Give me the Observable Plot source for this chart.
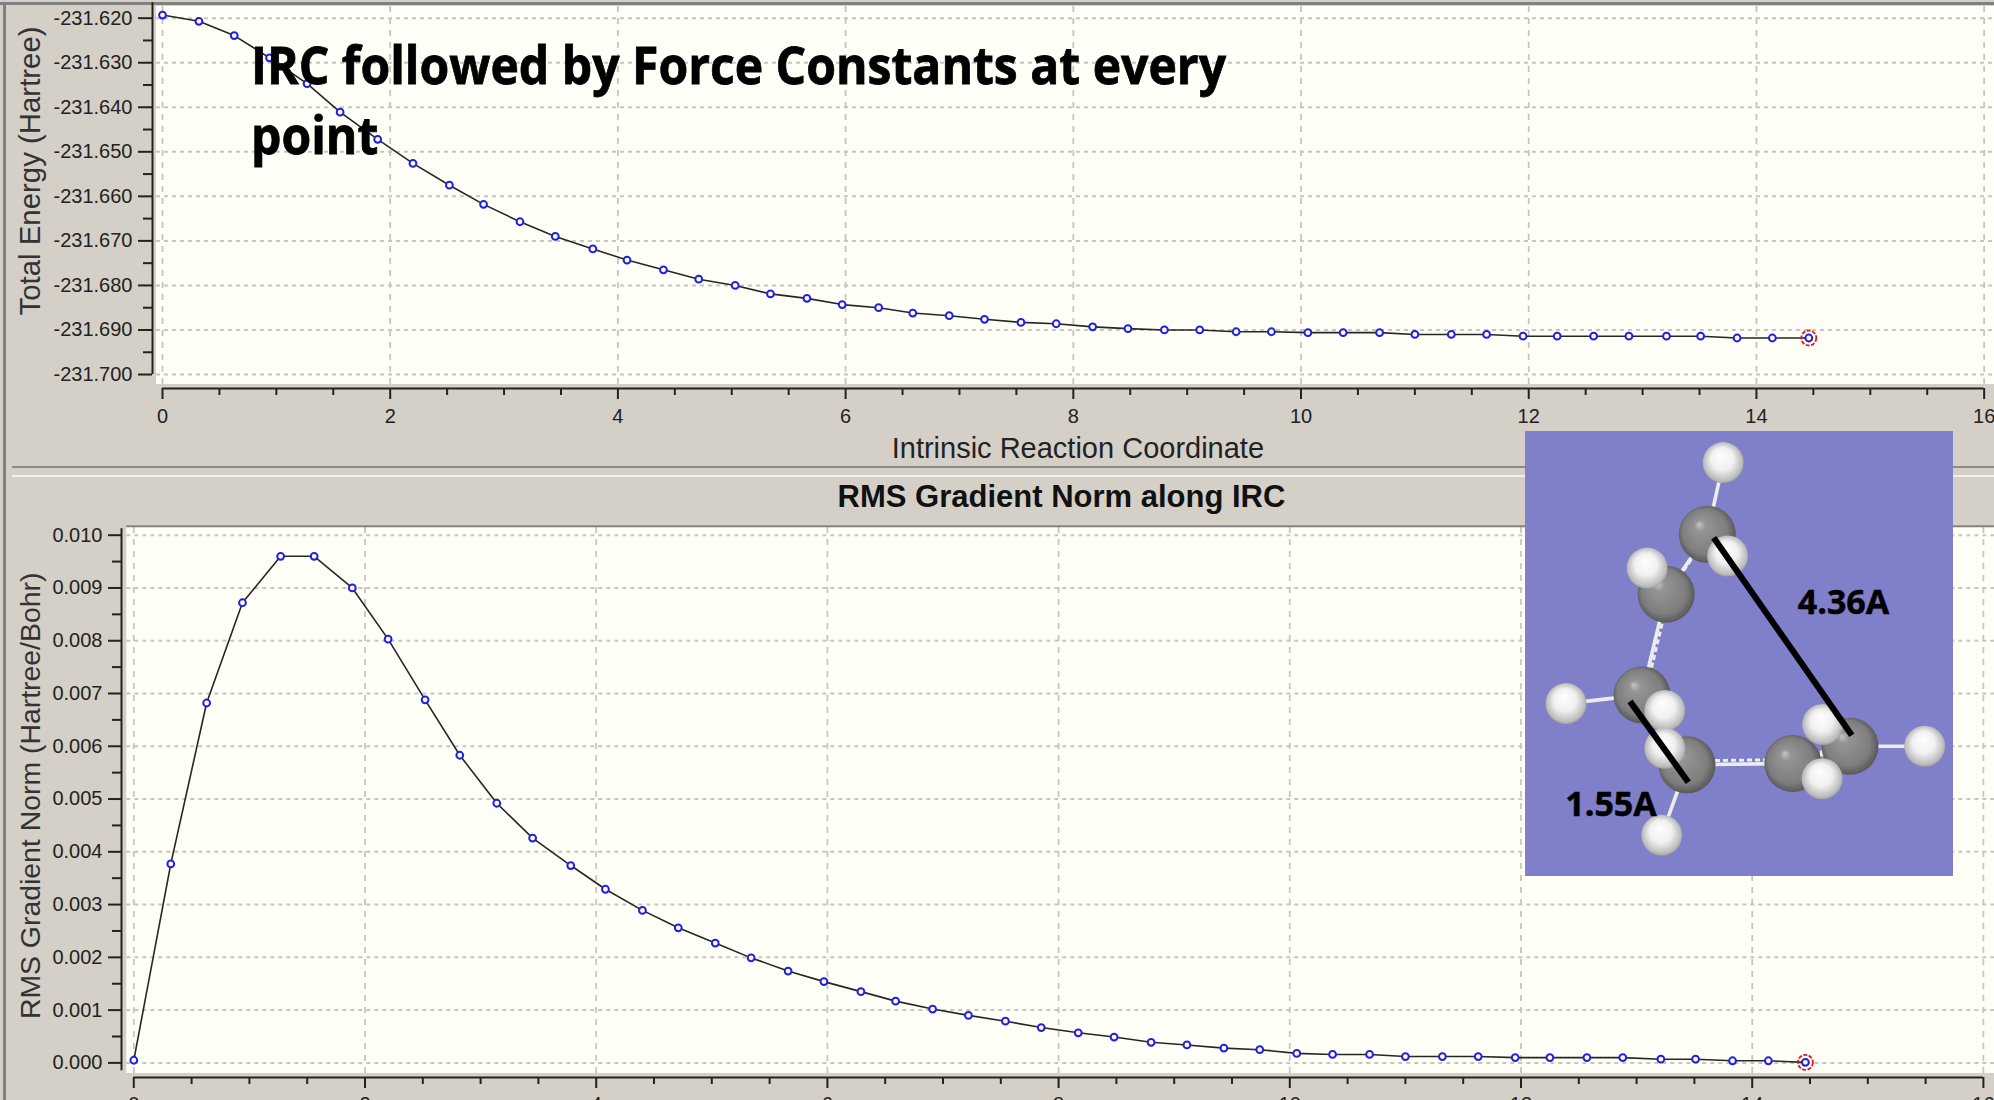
<!DOCTYPE html>
<html><head><meta charset="utf-8">
<script src="https://cdn.jsdelivr.net/npm/d3@7"></script>
<script src="https://cdn.jsdelivr.net/npm/@observablehq/plot@0.6"></script>
<style>
html,body{margin:0;padding:0;width:1994px;height:1100px;overflow:hidden;background:#d4d0c8;font-family:"Liberation Sans",Arial,sans-serif}
.abs{position:absolute}
svg{display:block;background:transparent!important;overflow:hidden}
#headline span{position:absolute;white-space:nowrap;font:700 52px/1 "Open Sans",sans-serif;color:#000;transform-origin:0 0;-webkit-text-stroke:.8px #000}
</style></head><body>
<div class="abs" style="left:0;top:2px;width:1994px;height:3px;background:#808080"></div>
<div class="abs" style="left:3px;top:2px;width:3px;height:1098px;background:#808080"></div>
<div class="abs" style="left:12px;top:466px;width:1982px;height:2px;background:#8c8a84"></div>
<div class="abs" style="left:12px;top:475px;width:1982px;height:2px;background:#f2f0ea"></div>
<div id="top" class="abs" style="left:0;top:0"></div>
<div id="bottom" class="abs" style="left:0;top:470px"></div>
<div id="mol" class="abs" style="left:1525px;top:431px;width:428px;height:445px;background:#7f7fca"></div>
<div id="headline" class="abs" style="left:0;top:0">
<span id="h1">IRC followed by Force Constants at every</span>
<span id="h2">point</span>
</div>
<script>
const ircTop = [0,.32,.63,.94,1.27,1.56,1.89,2.20,2.52,2.82,3.14,3.45,3.78,4.08,4.40,4.71,5.03,5.34,5.66,5.97,6.29,6.59,6.91,7.22,7.54,7.85,8.17,8.48,8.80,9.11,9.43,9.74,10.06,10.37,10.69,11.00,11.32,11.63,11.95,12.25,12.57,12.88,13.21,13.51,13.83,14.14,14.46];
const energy = [-231.6193,-231.6207,-231.6239,-231.6289,-231.6347,-231.6411,-231.6472,-231.6526,-231.6575,-231.6618,-231.6657,-231.6690,-231.6718,-231.6743,-231.6765,-231.6786,-231.6800,-231.6819,-231.6829,-231.6843,-231.6850,-231.6862,-231.6868,-231.6876,-231.6883,-231.6886,-231.6893,-231.6897,-231.6900,-231.6900,-231.6904,-231.6904,-231.6906,-231.6906,-231.6906,-231.6910,-231.6910,-231.6910,-231.6914,-231.6914,-231.6914,-231.6914,-231.6914,-231.6914,-231.6918,-231.6918,-231.6918];
const gradient = [.00005,.00377,.00682,.00872,.00960,.00960,.00900,.00803,.00688,.00583,.00492,.00426,.00374,.00329,.00289,.00256,.00227,.00199,.00174,.00154,.00135,.00117,.00102,.00090,.00079,.00067,.00057,.00049,.00039,.00034,.00028,.00025,.00018,.00016,.00016,.00012,.00012,.00012,.00010,.00010,.00010,.00010,.00007,.00007,.00004,.00004,.00001];
const xTicks = [0,2,4,6,8,10,12,14,16];
const xMinor = [.5,1,1.5,2.5,3,3.5,4.5,5,5.5,6.5,7,7.5,8.5,9,9.5,10.5,11,11.5,12.5,13,13.5,14.5,15,15.5];
const energyTicks = [-231.62,-231.63,-231.64,-231.65,-231.66,-231.67,-231.68,-231.69,-231.70];
const energyMinor = [-231.625,-231.635,-231.645,-231.655,-231.665,-231.675,-231.685,-231.695];
const gradTicks = [0,.001,.002,.003,.004,.005,.006,.007,.008,.009,.010];
const gradMinor = [.0005,.0015,.0025,.0035,.0045,.0055,.0065,.0075,.0085,.0095];
const topYLabel = "Total Energy (Hartree)", xLabel = "Intrinsic Reaction Coordinate";
const bottomYLabel = "RMS Gradient Norm (Hartree/Bohr)", bottomTitle = "RMS Gradient Norm along IRC";
// molecule inset (drawn in its own 428 x 445 picture units, back to front)
const atomKind = ["H","C","H","H","C","C","H","H","H","C","H","C","H","C","H","H"];
const atomX = [197.7,181.8,202.1,121.6,140.6,116.5,40.5,139.3,139.3,161.5,136.2,267.4,297.2,324.5,399.2,296.6];
const atomY = [31.1,102.8,124.5,136.6,162.7,263.4,272.1,279,316.8,333.3,403.7,332,293,314.7,314.7,347.2];
const bondFrom = [0,1,3,4,5,5,5,5,9,9,9,11,11,13,13];
const bondTo   = [1,2,4,1,4,6,7,9,8,10,11,13,15,12,14];
const partialFrom = [4,5,9,11], partialTo = [1,4,11,13];
const measureX1 = [188.2,104.5], measureY1 = [106.2,269.9], measureX2 = [326.3,162.8], measureY2 = [303.8,350.7];
const measureLabels = ["4.36A","1.55A"], labelX = [318,85.5], labelY = [172,373.3];

const FONT = '"Liberation Sans",Arial,sans-serif';
const FRAME = "#fffff7", GRID = "#c6c6be", LINE = "#262626", BLUE = "#2020e0", AXIS = "#222";

function panel({xs, ys, width, height, marginLeft, marginBottom, xDomain, yDomain, frame, axisY, yTicks, yMinor, fmt, tickTop, extra, minorSize, majorSize}) {
  const data = xs.map((x,i)=>({x, y: ys[i]}));
  const last = data[data.length-1];
  return Plot.plot({
    width, height, marginLeft, marginRight:0, marginTop:0, marginBottom,
    style:{background:"transparent",fontFamily:FONT,fontSize:"20px",color:"#222"},
    x:{domain:xDomain, axis:null, label:null},
    y:{domain:yDomain, axis:null, label:null},
    marks:[
      Plot.rect([frame],{x1:"x1",x2:"x2",y1:"y1",y2:"y2",fill:FRAME}),
      Plot.ruleY(yTicks,{x1:frame.x1,x2:frame.x2,stroke:GRID,strokeWidth:2,strokeDasharray:"4,4"}),
      Plot.ruleX(xTicks,{y1:frame.y1,y2:frame.y2,stroke:GRID,strokeWidth:1.8,strokeDasharray:"6,6"}),
      Plot.line(data,{x:"x",y:"y",stroke:LINE,strokeWidth:1.6}),
      Plot.dot(data,{x:"x",y:"y",r:3.4,fill:FRAME,stroke:BLUE,strokeWidth:2}),
      Plot.dot([last],{x:"x",y:"y",r:7.5,fill:"none",stroke:"#e01818",strokeWidth:1.8,strokeDasharray:"4,1.5"}),
      // axis lines
      Plot.ruleY([yDomain[0]],{x1:0,x2:16,stroke:AXIS,strokeWidth:2}),
      Plot.ruleX([xDomain[0]],{y1:axisY[0],y2:axisY[1],stroke:AXIS,strokeWidth:2}),
      Plot.axisX(xTicks,{anchor:"bottom",tickSize:11,tickPadding:tickTop,stroke:AXIS,strokeWidth:2,fontSize:20,tickFormat:d=>String(d),label:null}),
      Plot.axisX(xMinor,{anchor:"bottom",tickSize:7,stroke:AXIS,strokeWidth:2,fill:"none",label:null}),
      Plot.axisY(yTicks,{anchor:"left",tickSize:majorSize,tickPadding:6,stroke:AXIS,strokeWidth:2,fontSize:20,tickFormat:fmt,label:null}),
      Plot.axisY(yMinor,{anchor:"left",tickSize:minorSize,stroke:AXIS,strokeWidth:2,fill:"none",label:null}),
      ...extra
    ]
  });
}

// top panel: -231.620 at y=17.7, -231.700 at y=374; x=0 at 162, 113.85 px/unit
const topChart = panel({
  xs:ircTop, ys:energy, width:1994, height:466, marginLeft:152, marginBottom:78,
  xDomain:[-0.0878,16.091], yDomain:[-231.70314,-231.61603],
  frame:{x1:-0.053,x2:16.091,y1:-231.70224,y2:-231.61735},
  axisY:[-231.70,-231.6165], yTicks:energyTicks, yMinor:energyMinor, fmt:d=>d.toFixed(3), tickTop:9, majorSize:14, minorSize:9,
  extra:[
    Plot.text([topYLabel],{x:-0.0878,y:-231.6543,dx:-122,rotate:-90,text:d=>d,fontSize:29.4,fill:"#333"}),
    Plot.text([xLabel],{x:8.04,y:-231.71657,text:d=>d,fontSize:29,fill:"#222"})
  ]
});
document.getElementById("top").append(topChart);

// bottom panel: 0.010 at svg y=64.7, 0.000 at y=592.4; x=0 at 133.3, 115.6 px/unit
const bottomChart = panel({
  xs:ircTop, ys:gradient, width:1994, height:630, marginLeft:121, marginBottom:23,
  xDomain:[-0.1064,16.096], yDomain:[-0.000277,0.011226],
  frame:{x1:-0.0606,x2:16.096,y1:-0.0002,y2:0.01017},
  axisY:[-0.00015,0.01012], yTicks:gradTicks, yMinor:gradMinor, fmt:d=>d.toFixed(3), tickTop:8, majorSize:13, minorSize:9,
  extra:[
    Plot.ruleY([0.01017],{x1:-0.0606,x2:16.096,stroke:"#808080",strokeWidth:2}),
    Plot.text([bottomYLabel],{x:-0.1064,y:0.00506,dx:-91,rotate:-90,text:d=>d,fontSize:28.4,fill:"#333"}),
    Plot.text([bottomTitle],{x:8.025,y:0.010714,text:d=>d,fontSize:31,fontWeight:700,fill:"#111"})
  ]
});
document.getElementById("bottom").append(bottomChart);

// molecule inset
const atoms = atomKind.map((k,i)=>({k,x:atomX[i],y:atomY[i]}));
const linkRows = (from,to)=>from.map((a,i)=>({x1:atomX[a],y1:atomY[a],x2:atomX[to[i]],y2:atomY[to[i]]}));
const measures = measureX1.map((x,i)=>({x1:x,y1:measureY1[i],x2:measureX2[i],y2:measureY2[i]}));
const molLabels = measureLabels.map((t,i)=>({t,x:labelX[i],y:labelY[i]}));
function gradientDefs(){
  const ns="http://www.w3.org/2000/svg";
  const defs=document.createElementNS(ns,"defs");
  const make=(id,fx,fy,stops)=>{
    const g=document.createElementNS(ns,"radialGradient");
    g.setAttribute("id",id);g.setAttribute("cx","0.5");g.setAttribute("cy","0.5");g.setAttribute("r","0.55");
    g.setAttribute("fx",fx);g.setAttribute("fy",fy);
    stops.forEach(([o,c])=>{const s=document.createElementNS(ns,"stop");s.setAttribute("offset",o);s.setAttribute("stop-color",c);g.append(s);});
    defs.append(g);
  };
  make("atomH","0.45","0.32",[[0,"#ffffff"],[.5,"#f0f0f0"],[.85,"#bcbcbc"],[1,"#8a8a8a"]]);
  make("atomC","0.35","0.32",[[0,"#c6c6c6"],[.18,"#949494"],[.72,"#7e7e7e"],[1,"#4c4c4c"]]);
  return defs;
}
const molChart = Plot.plot({
  width:428, height:445, margin:0,
  style:{background:"transparent",fontFamily:FONT},
  x:{domain:[0,428],axis:null}, y:{domain:[445,0],axis:null},
  r:{type:"identity"}, color:{type:"identity"},
  marks:[
    gradientDefs,
    Plot.link(linkRows(bondFrom,bondTo),{x1:"x1",y1:"y1",x2:"x2",y2:"y2",stroke:"#ececec",strokeWidth:3.6}),
    Plot.link(linkRows(partialFrom,partialTo),{x1:"x1",y1:"y1",x2:"x2",y2:"y2",stroke:"#ececec",strokeWidth:3,strokeDasharray:"5,3",dx:4,dy:-4}),
    Plot.dot(atoms,{x:"x",y:"y",r:d=>d.k==="H"?20.5:28.5,fill:d=>d.k==="H"?"url(#atomH)":"url(#atomC)"}),
    Plot.link(measures,{x1:"x1",y1:"y1",x2:"x2",y2:"y2",stroke:"#000",strokeWidth:6.2}),
    Plot.text(molLabels,{x:"x",y:"y",text:"t",fontSize:34,fontWeight:700,fontFamily:'"Open Sans",sans-serif',fill:"#000",stroke:"#000",strokeWidth:.5})
  ]
});
document.getElementById("mol").append(molChart);

// headline, fitted to the reference width
const h1=document.getElementById("h1"), h2=document.getElementById("h2");
const sx = 975/h1.getBoundingClientRect().width;
h1.style.left="251px"; h1.style.top="38px"; h1.style.transform=`scaleX(${sx})`;
h2.style.left="251px"; h2.style.top="108px"; h2.style.transform=`scaleX(${sx})`;
</script>
</body></html>
